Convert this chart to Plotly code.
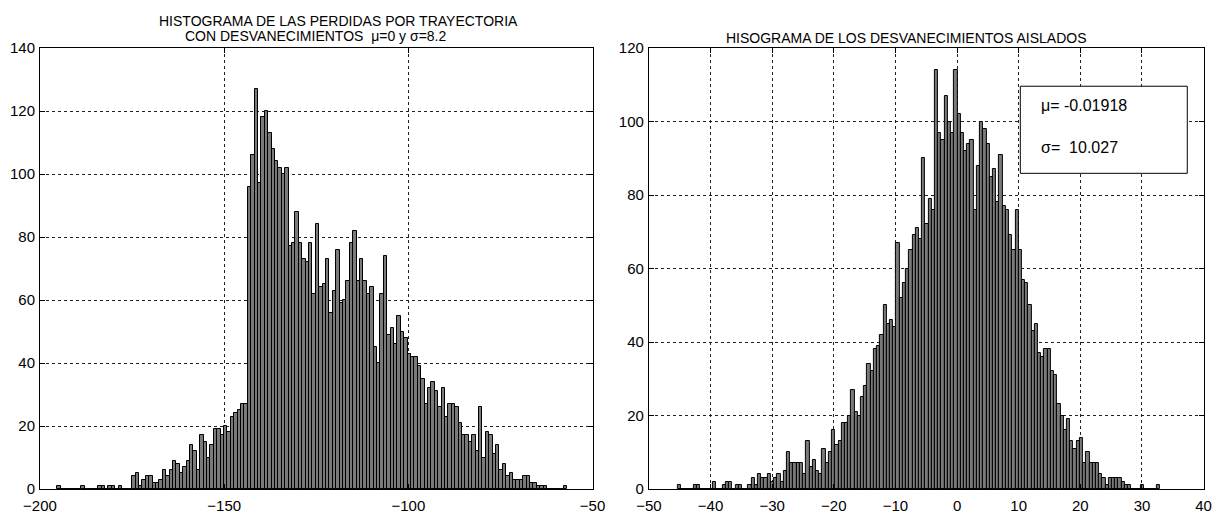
import numpy as np
import plotly.graph_objects as go

# ---- Path loss with fading (dB), 150 equal bins between these edges ----
loss_lo, loss_hi = -195.3, -56.8
loss_counts = [
    1, 0, 0, 0, 0, 0, 0, 1, 0, 0,
    0, 0, 1, 1, 0, 1, 1, 0, 1, 0,
    0, 0, 4, 5, 1, 3, 4, 4, 2, 2,
    3, 6, 4, 6, 9, 8, 5, 7, 9, 14,
    12, 6, 17, 15, 10, 14, 19, 19, 17, 20,
    18, 23, 24, 25, 27, 27, 96, 106, 127, 97,
    118, 120, 113, 108, 104, 102, 100, 102, 77, 78,
    88, 78, 73, 72, 78, 62, 84, 64, 65, 73,
    56, 63, 76, 59, 60, 66, 78, 82, 66, 73,
    66, 62, 64, 45, 40, 62, 74, 49, 51, 46,
    55, 50, 48, 43, 42, 42, 39, 35, 27, 32,
    34, 31, 26, 32, 23, 27, 27, 26, 21, 17,
    17, 15, 17, 12, 26, 10, 18, 17, 11, 14,
    6, 8, 4, 5, 3, 3, 3, 4, 4, 2,
    2, 1, 1, 1, 0, 0, 0, 0, 0, 1,
]

# ---- Isolated fading (dB), 150 equal bins between these edges ----
fade_lo, fade_hi = -45.36, 32.96
fade_counts = [
    1, 0, 0, 0, 0, 1, 1, 0, 0, 0,
    0, 2, 0, 0, 1, 2, 2, 0, 1, 1,
    0, 0, 1, 3, 1, 4, 3, 3, 4, 2,
    3, 4, 2, 5, 10, 7, 7, 7, 7, 4,
    13, 6, 8, 5, 4, 11, 7, 10, 16, 12,
    13, 18, 18, 20, 27, 21, 20, 25, 28, 34,
    32, 38, 39, 42, 50, 45, 46, 44, 67, 52,
    56, 60, 65, 69, 71, 68, 90, 72, 79, 76,
    114, 97, 95, 107, 100, 97, 114, 102, 97, 92,
    94, 95, 76, 88, 100, 98, 94, 85, 87, 78,
    91, 77, 76, 69, 65, 76, 65, 57, 56, 50,
    43, 45, 37, 36, 38, 38, 32, 31, 23, 20,
    16, 19, 13, 11, 13, 14, 7, 10, 7, 7,
    7, 4, 3, 1, 3, 3, 3, 3, 2, 1,
    1, 0, 0, 0, 1, 0, 0, 0, 0, 1,
]

fade_mu = "-0.01918"
fade_sigma = "10.027"

left_title = ["HISTOGRAMA DE LAS PERDIDAS POR TRAYECTORIA",
              "CON DESVANECIMIENTOS  \u03bc=0 y \u03c3=8.2"]
right_title = "HISOGRAMA DE LOS DESVANECIMIENTOS AISLADOS"


def bin_centers(lo, hi, n):
    w = (hi - lo) / n
    return lo + (np.arange(n) + 0.5) * w, w


W, H = 1227, 514
FONT = "Liberation Sans Narrow, Arial Narrow, Liberation Sans, Arial, sans-serif"
BAR_FILL = "#7a7a7a"

lx, lw = bin_centers(loss_lo, loss_hi, len(loss_counts))
rx, rw = bin_centers(fade_lo, fade_hi, len(fade_counts))

fig = go.Figure()
bar_style = dict(marker=dict(color=BAR_FILL, line=dict(color="black", width=1)),
                 showlegend=False, hoverinfo="x+y")
fig.add_trace(go.Bar(x=lx, y=loss_counts, width=lw, xaxis="x", yaxis="y", **bar_style))
fig.add_trace(go.Bar(x=rx, y=fade_counts, width=rw, xaxis="x2", yaxis="y2", **bar_style))


def px(xp):
    return xp / W


def py(yp):
    return 1 - yp / H


ydom = [py(489), py(48)]
axis_common = dict(
    ticks="inside", ticklen=5, tickcolor="black",
    showline=True, linecolor="black", linewidth=1, mirror="ticks",
    showgrid=True, gridcolor="#202020", gridwidth=1, griddash="3px,3px",
    zeroline=False, automargin=False,
    tickfont=dict(family=FONT, size=15, color="black"),
    fixedrange=True,
)
x_extra = dict(ticklabelstandoff=3)
y_extra = dict(ticklabelstandoff=1)

fig.update_layout(
    width=W, height=H,
    margin=dict(l=0, r=0, t=0, b=0),
    paper_bgcolor="white", plot_bgcolor="white",
    bargap=0, barmode="overlay",
    xaxis=dict(domain=[px(40), px(592.5)], range=[-200, -50], tick0=-200, dtick=50,
               anchor="y", **axis_common, **x_extra),
    yaxis=dict(domain=ydom, range=[0, 140], tick0=0, dtick=20, anchor="x",
               **axis_common, **y_extra),
    xaxis2=dict(domain=[px(648.9), px(1203.6)], range=[-50, 40], tick0=-50, dtick=10,
                anchor="y2", **axis_common, **x_extra),
    yaxis2=dict(domain=ydom, range=[0, 120], tick0=0, dtick=20, anchor="x2",
                **axis_common, **y_extra),
)

title_font = dict(family=FONT, size=14, color="black")
fig.add_annotation(x=px(338), y=py(21), xref="paper", yref="paper", text=left_title[0],
                   showarrow=False, xanchor="center", yanchor="middle", font=title_font)
fig.add_annotation(x=px(315), y=py(36.5), xref="paper", yref="paper", text=left_title[1],
                   showarrow=False, xanchor="center", yanchor="middle", font=title_font)
fig.add_annotation(x=px(906), y=py(38.5), xref="paper", yref="paper", text=right_title,
                   showarrow=False, xanchor="center", yanchor="middle", font=title_font)

# statistics box on the fading histogram
fig.add_shape(type="rect", xref="x2", yref="y2", x0=10.26, x1=37.35, y0=85.9, y1=109.6,
              line=dict(color="black", width=1), fillcolor="white", layer="above")
stat_font = dict(family=FONT, size=16, color="black")
fig.add_annotation(x=13.3, y=104.4, xref="x2", yref="y2",
                   text="\u03bc= " + fade_mu, showarrow=False, xanchor="left",
                   font=stat_font)
fig.add_annotation(x=13.3, y=93.0, xref="x2", yref="y2",
                   text="\u03c3=\u00a0\u00a0" + fade_sigma, showarrow=False, xanchor="left",
                   font=stat_font)

fig.write_html("out.html")
